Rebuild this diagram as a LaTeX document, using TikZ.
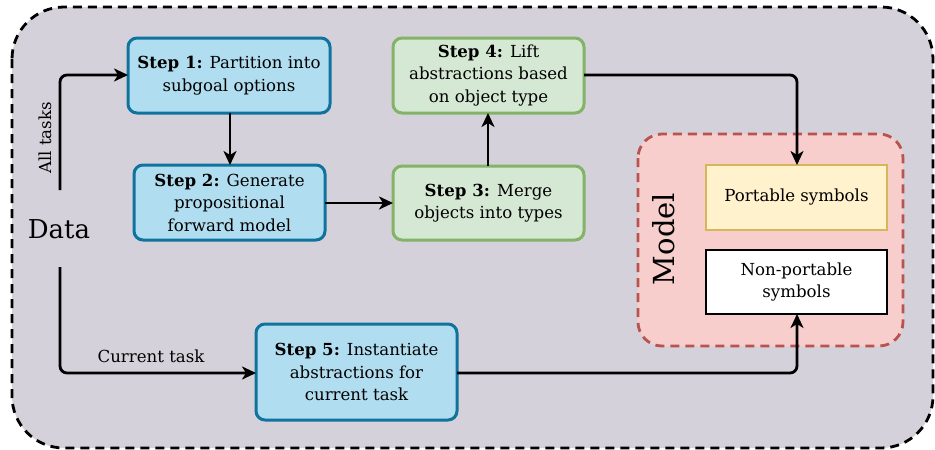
\documentclass[tikz,border=0pt]{standalone}
\usepackage{fontspec}
\setmainfont{DejaVu Serif}
\usetikzlibrary{arrows.meta}
\definecolor{bgray}{RGB}{213,209,218}
\definecolor{bluefill}{HTML}{B1DDF0}
\definecolor{bluedraw}{HTML}{10739E}
\definecolor{greenfill}{HTML}{D5E8D4}
\definecolor{greendraw}{HTML}{82B366}
\definecolor{redfill}{HTML}{F8CECC}
\definecolor{reddraw}{HTML}{B85450}
\definecolor{yelfill}{HTML}{FFF2CC}
\definecolor{yeldraw}{HTML}{D6B656}
\begin{document}
\begin{tikzpicture}[x=1pt,y=-1pt,
  txt/.style={font=\fontsize{16.6}{22.5}\selectfont, align=center, inner sep=0pt},
  bluebox/.style={draw=bluedraw, fill=bluefill, line width=3pt, rounded corners=9pt},
  greenbox/.style={draw=greendraw, fill=greenfill, line width=3pt, rounded corners=9pt},
  flow/.style={-{Stealth[length=14pt,width=13pt,inset=4pt]}, line width=2.8pt, rounded corners=7pt},
]
\useasboundingbox (0,0) rectangle (935,450);
\draw[fill=bgray, line width=2.8pt, dash pattern=on 9pt off 6pt, rounded corners=52pt] (12,7) rectangle (933,448);
% boxes
\path[bluebox] (128,38) rectangle (330,113);
\node[txt] (s1) at (229,75.5) {\textbf{Step 1:} Partition into\\subgoal options};
\path[bluebox] (134,165) rectangle (325,240);
\node[txt] (s2) at (229.5,202.5) {\textbf{Step 2:} Generate\\propositional\\forward model};
\path[greenbox] (393,166) rectangle (584,240);
\node[txt] (s3) at (488.5,203) {\textbf{Step 3:} Merge\\objects into types};
\path[greenbox] (393,38) rectangle (584,113);
\node[txt] (s4) at (488.5,75.5) {\textbf{Step 4:} Lift\\abstractions based\\on object type};
\path[bluebox] (256,324) rectangle (457,420);
\node[txt] (s5) at (356.5,372) {\textbf{Step 5:} Instantiate\\abstractions for\\current task};
% named anchors
\coordinate (s1w) at (128,75);
\coordinate (s1s) at (230,113);
\coordinate (s2n) at (230,165);
\coordinate (s2e) at (325,203);
\coordinate (s3w) at (393,203);
\coordinate (s3n) at (488,166);
\coordinate (s4s) at (488,113);
\coordinate (s4e) at (584,75);
\coordinate (s5w) at (256,373);
\coordinate (s5e) at (457,373);
% model
\draw[reddraw, fill=redfill, line width=2.8pt, dash pattern=on 9pt off 6pt, rounded corners=24pt] (638,134) rectangle (903,346);
\node[rotate=90, font=\fontsize{29}{32}\selectfont] (model) at (664,239) {Model};
\draw[yeldraw, fill=yelfill, line width=2.8pt] (706,165) rectangle (887,230);
\node[txt] (port) at (796.5,197.5) {Portable symbols};
\draw[black, fill=white, line width=2.8pt] (706,250) rectangle (887,314);
\node[txt] (nonport) at (796.5,282) {Non-portable\\symbols};
\coordinate (portn) at (797,165);
\coordinate (nonps) at (797,314);
% data
\node[font=\fontsize{26}{30}\selectfont, inner sep=0pt] (data) at (59,229) {Data};
\coordinate (dup) at (60,190);
\coordinate (ddown) at (60,267);
% arrows
\draw[flow] (dup) |- (s1w);
\node[rotate=90, txt] (all) at (45,138) {All tasks};
\draw[flow] (ddown) |- (s5w);
\node[txt] (cur) at (151,356) {Current task};
\draw[flow] (s1s) -- (s2n);
\draw[flow] (s2e) -- (s3w);
\draw[flow] (s3n) -- (s4s);
\draw[flow] (s4e) -| (portn);
\draw[flow] (s5e) -| (nonps);
\end{tikzpicture}
\end{document}
